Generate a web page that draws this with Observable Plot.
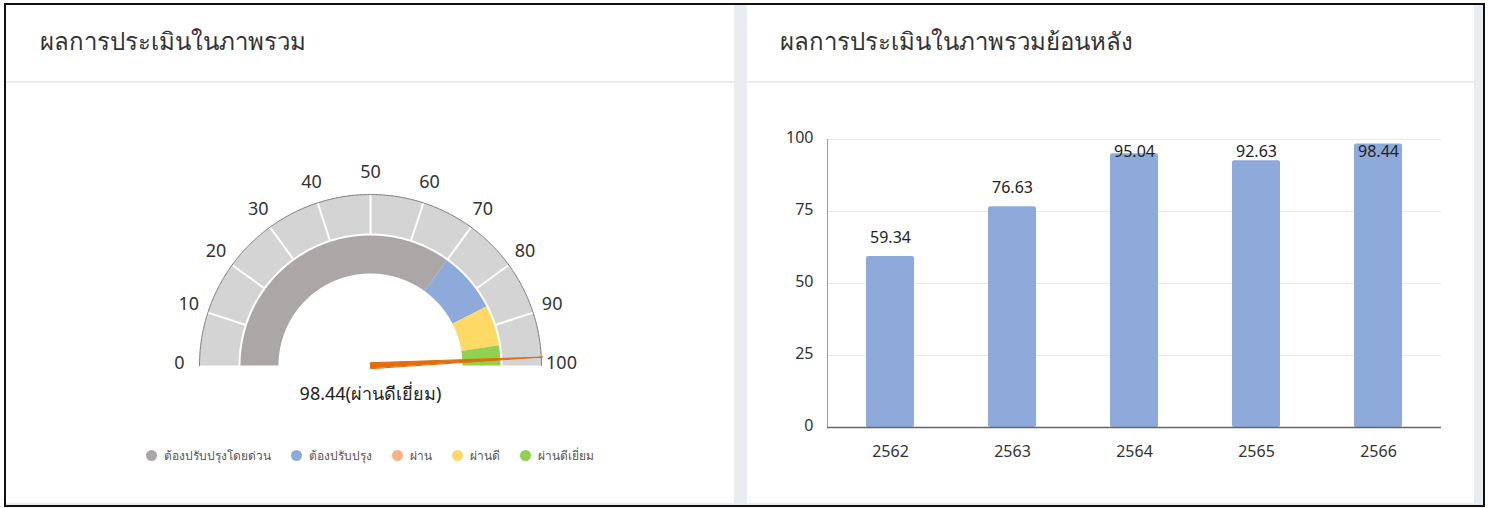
<!DOCTYPE html>
<html>
<head>
<meta charset="utf-8">
<script src="https://cdn.jsdelivr.net/npm/d3@7"></script>
<script src="https://cdn.jsdelivr.net/npm/@observablehq/plot@0.6"></script>
<style>
  html, body { margin: 0; padding: 0; background: #ffffff; width: 1490px; height: 508px; overflow: hidden; }
  body { font-family: "Noto Sans", "Open Sans", sans-serif; color: #333; position: relative; }
  #frame { position: absolute; left: 4px; top: 3px; width: 1481px; height: 504px; box-sizing: border-box;
           border: 2px solid #111; background: #e9ecf1; }
  .panel { position: absolute; background: #fff; }
  .title { position: absolute; font-size: 24px; color: #333; white-space: nowrap; line-height: 1; }
  .hr { position: absolute; height: 2px; background: #ececec; }
  #legend { position: absolute; left: 6px; width: 728px; top: 446px; display: flex; justify-content: center;
            gap: 20px; font-size: 12px; color: #555; }
  #legend .item { display: flex; align-items: center; white-space: nowrap; }
  #legend .dot { width: 11px; height: 11px; border-radius: 50%; margin-right: 7px; }
  .plotwrap { position: absolute; }
</style>
</head>
<body>
<div id="frame"></div>
<div class="panel" style="left:6px; top:5px; width:728px; height:498px;"></div>
<div class="panel" style="left:747px; top:5px; width:727px; height:498px;"></div>
<div class="hr" style="left:6px; top:81px; width:728px;"></div>
<div class="hr" style="left:747px; top:81px; width:727px;"></div>
<div class="title" style="left:40px; top:29px;">ผลการประเมินในภาพรวม</div>
<div class="title" style="left:780px; top:29px;">ผลการประเมินในภาพรวมย้อนหลัง</div>
<div id="gauge" class="plotwrap" style="left:6px; top:100px;"></div>
<div id="legend"></div>
<div id="bars" class="plotwrap" style="left:747px; top:100px;"></div>

<script>
// ---------------- data ----------------
const bandNames  = ["ต้องปรับปรุงโดยด่วน", "ต้องปรับปรุง", "ผ่าน", "ผ่านดี", "ผ่านดีเยี่ยม"];
const bandFrom   = [0, 70, 85, 85, 95];
const bandTo     = [70, 85, 85, 95, 100];
const bandColors = ["#aba7a7", "#8eaadb", "#f4b183", "#ffd966", "#92d050"];
const gaugeTicks = [0, 10, 20, 30, 40, 50, 60, 70, 80, 90, 100];
const score = 98.44;

const years  = ["2562", "2563", "2564", "2565", "2566"];
const scores = [59.34, 76.63, 95.04, 92.63, 98.44];
const yTicks = [0, 25, 50, 75, 100];

// ---------------- gauge ----------------
const R_OUT = 171, R_OUT_IN = 132, R_BAND = 130, R_BAND_IN = 92, R_LABEL = 191;
const ang = v => Math.PI - Math.PI * v / 100;
const pt = (v, r) => ({x: r * Math.cos(ang(v)), y: r * Math.sin(ang(v))});

function ring(name, a, b, r0, r1) {
  const out = [];
  const n = Math.max(2, Math.ceil((b - a) / 0.25));
  for (let i = 0; i <= n; i++) out.push({band: name, ...pt(a + (b - a) * i / n, r1)});
  for (let i = n; i >= 0; i--) out.push({band: name, ...pt(a + (b - a) * i / n, r0)});
  return out;
}

const bandPolys = bandNames.flatMap((name, i) => bandTo[i] > bandFrom[i] ? ring(name, bandFrom[i], bandTo[i], R_BAND_IN, R_BAND) : []);
const backPoly = ring("back", 0, 100, R_OUT_IN, R_OUT);
const outerEdge = d3.range(0, 100.001, 0.25).map(v => pt(v, R_OUT));
const tickLinks = gaugeTicks.slice(1, -1).map(v => ({a: pt(v, R_OUT_IN - 1), b: pt(v, R_OUT)}));
const tickLabels = gaugeTicks.map(v => ({v, ...pt(v, R_LABEL)}));
const scoreBand = bandNames[bandNames.findIndex((n, i) => score >= bandFrom[i] && score <= bandTo[i] && bandTo[i] > bandFrom[i])];

// tapered needle
const tip = pt(score, R_OUT + 1);
const perpA = ang(score) + Math.PI / 2;
const needle = [
  {x: tip.x, y: tip.y},
  {x: 2.8 * Math.cos(perpA), y: 2.8 * Math.sin(perpA)},
  {x: -2.8 * Math.cos(perpA), y: -2.8 * Math.sin(perpA)}
];

const gauge = Plot.plot({
  width: 728, height: 320,
  margin: 0,
  x: {domain: [-364, 364], range: [0, 728], axis: null},
  y: {domain: [-55, 265], range: [320, 0], axis: null},
  color: {domain: bandNames, range: bandColors},
  style: {fontFamily: "'Noto Sans', sans-serif", background: "transparent"},
  marks: [
    Plot.line(backPoly, {x: "x", y: "y", fill: "#d4d4d4", stroke: "none", curve: "linear-closed"}),
    Plot.link(tickLinks, {x1: d => d.a.x, y1: d => d.a.y, x2: d => d.b.x, y2: d => d.b.y, stroke: "#fff", strokeWidth: 2}),
    Plot.line(outerEdge, {x: "x", y: "y", stroke: "#7a7a7a", strokeWidth: 1}),
    Plot.line(bandPolys, {x: "x", y: "y", z: "band", fill: "band", stroke: "none", curve: "linear-closed"}),
    Plot.text(tickLabels, {x: "x", y: "y", dy: -2, text: d => String(d.v), fontSize: 18, fill: "#333"}),
    Plot.line(needle, {x: "x", y: "y", fill: "#e46c0a", stroke: "#e46c0a", strokeWidth: 1, strokeLinejoin: "round", curve: "linear-closed"}),
    Plot.text([`${score}(${scoreBand})`], {x: 0, y: -29, text: d => d, fontSize: 18, fill: "#222"})
  ]
});
document.getElementById("gauge").append(gauge);

// legend
const legend = document.getElementById("legend");
bandNames.forEach((n, i) => {
  const item = document.createElement("div");
  item.className = "item";
  const dot = document.createElement("span");
  dot.className = "dot";
  dot.style.background = bandColors[i];
  const lab = document.createElement("span");
  lab.textContent = n;
  item.append(dot, lab);
  legend.append(item);
});

// ---------------- bars ----------------
const barData = years.map((y, i) => ({year: y, value: scores[i]}));
const bars = Plot.plot({
  width: 727, height: 380,
  marginLeft: 80, marginRight: 33, marginTop: 39, marginBottom: 53,
  style: {fontFamily: "'Noto Sans', sans-serif", fontSize: "16px", color: "#333", background: "transparent"},
  x: {domain: years, paddingInner: 0.61, paddingOuter: 0.305, label: null, axis: null},
  y: {domain: [0, 100], label: null, axis: null},
  marks: [
    Plot.gridY(yTicks.slice(1), {stroke: "#e8e8e8", strokeOpacity: 1}),
    Plot.axisY(yTicks, {tickSize: 0, tickPadding: 14, dy: -2, fill: "#333", fontSize: 16}),
    Plot.axisX({tickSize: 0, tickPadding: 18, fill: "#333", fontSize: 16}),
    Plot.frame({anchor: "left", stroke: "#999"}),
    Plot.barY(barData, {x: "year", y: "value", fill: "#8eaadb", rx: 2}),
    Plot.ruleY([0], {stroke: "#666", strokeWidth: 1.5}),
    Plot.text(barData, {x: "year", y: d => Math.min(d.value + 6.6, 95.8), text: d => d.value.toFixed(2), fontSize: 16, fill: "#222"})
  ]
});
document.getElementById("bars").append(bars);
</script>
</body>
</html>
